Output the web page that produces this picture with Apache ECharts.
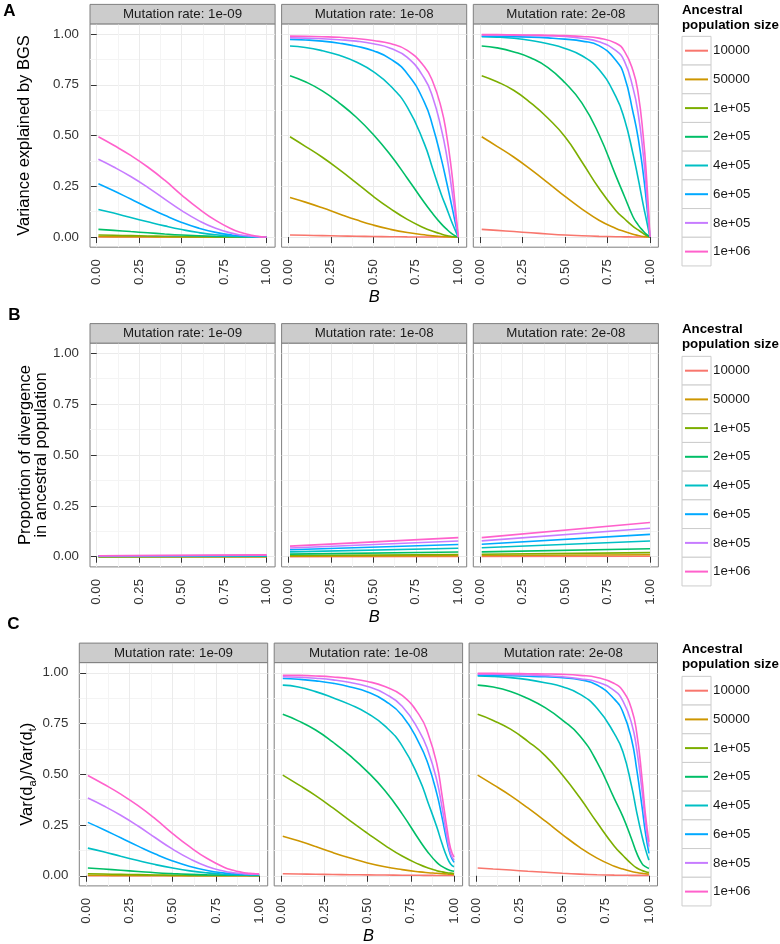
<!DOCTYPE html>
<html><head><meta charset="utf-8">
<script src="https://cdn.jsdelivr.net/npm/echarts@6/dist/echarts.min.js"></script>
<style>html,body{margin:0;padding:0;background:#fff}#c{width:780px;height:944px}</style>
</head><body><div id="c"></div>
<script>
// ---------------- data ----------------
const SIZES = ['10000', '50000', '1e+05', '2e+05', '4e+05', '6e+05', '8e+05', '1e+06'];
const FACETS = ['Mutation rate: 1e-09', 'Mutation rate: 1e-08', 'Mutation rate: 2e-08'];
const TICKS = [0, 0.25, 0.5, 0.75, 1];
const MINOR = [0.125, 0.375, 0.625, 0.875];
const B_GRID = [0.01, 0.1, 0.2, 0.3, 0.4, 0.5, 0.6, 0.7, 0.8, 0.85, 0.9, 0.93, 0.96, 0.98, 1.0];
const B_LINE = [0.01, 1.0];

// Row A: variance explained by BGS (one row per population size)
const bgs_mu1e09 = [
  [0.0001,0.0001,0.0001,0.0001,0.0001,0,0,0,0,0,0,0,0,0,0],
  [0.0025,0.0021,0.0017,0.0013,0.0009,0.0006,0.0004,0.0002,0.0001,0,0,0,0,0,0],
  [0.0098,0.0085,0.0069,0.0053,0.0039,0.0027,0.0017,0.0009,0.0004,0.0002,0.0001,0,0,0,0],
  [0.038,0.033,0.027,0.021,0.015,0.01,0.0065,0.0035,0.0015,0.001,0.0004,0.0002,0.0001,0,0],
  [0.136,0.118,0.096,0.075,0.055,0.037,0.022,0.011,0.004,0.002,0.001,0.0005,0.0002,0,0],
  [0.263,0.228,0.187,0.146,0.107,0.072,0.044,0.023,0.009,0.005,0.002,0.001,0.0004,0.0001,0],
  [0.383,0.345,0.298,0.245,0.187,0.13,0.081,0.043,0.018,0.01,0.005,0.003,0.001,0.0003,0],
  [0.494,0.452,0.402,0.345,0.28,0.207,0.14,0.082,0.037,0.022,0.011,0.006,0.002,0.0005,0]
];
const bgs_mu1e08 = [
  [0.0098,0.0085,0.0069,0.0053,0.0039,0.0027,0.0017,0.0009,0.0004,0.0002,0.0001,0,0,0,0],
  [0.195,0.172,0.144,0.114,0.085,0.059,0.038,0.022,0.011,0.006,0.003,0.0015,0.0005,0.0001,0],
  [0.494,0.447,0.393,0.332,0.267,0.2,0.14,0.087,0.045,0.029,0.015,0.008,0.003,0.001,0],
  [0.795,0.765,0.72,0.66,0.59,0.505,0.405,0.29,0.17,0.115,0.065,0.04,0.018,0.007,0],
  [0.941,0.934,0.918,0.895,0.862,0.815,0.745,0.64,0.46,0.335,0.21,0.145,0.078,0.038,0],
  [0.974,0.971,0.965,0.955,0.94,0.918,0.878,0.805,0.665,0.545,0.385,0.275,0.16,0.08,0],
  [0.982,0.98,0.977,0.972,0.965,0.952,0.93,0.885,0.782,0.688,0.533,0.41,0.245,0.125,0],
  [0.99,0.989,0.987,0.984,0.978,0.968,0.953,0.92,0.84,0.765,0.635,0.51,0.33,0.17,0]
];
const bgs_mu2e08 = [
  [0.038,0.033,0.027,0.021,0.015,0.01,0.0065,0.0035,0.0015,0.001,0.0004,0.0002,0.0001,0,0],
  [0.494,0.447,0.393,0.332,0.267,0.2,0.138,0.083,0.042,0.027,0.014,0.008,0.003,0.001,0],
  [0.795,0.765,0.722,0.66,0.585,0.494,0.37,0.24,0.13,0.09,0.053,0.035,0.018,0.008,0],
  [0.941,0.932,0.912,0.882,0.835,0.76,0.66,0.505,0.30,0.2,0.1,0.06,0.03,0.013,0],
  [0.987,0.985,0.979,0.968,0.952,0.929,0.893,0.825,0.69,0.58,0.41,0.29,0.16,0.08,0],
  [0.99,0.989,0.987,0.985,0.981,0.975,0.965,0.943,0.87,0.79,0.615,0.49,0.315,0.165,0],
  [0.995,0.995,0.994,0.993,0.991,0.988,0.979,0.962,0.918,0.865,0.735,0.61,0.41,0.22,0],
  [0.997,0.997,0.996,0.995,0.994,0.992,0.988,0.98,0.955,0.915,0.82,0.71,0.50,0.29,0]
];

// Row B: proportion of divergence in ancestral population (values at B = 0.01 and 1)
const div_mu1e09 = [
  [0,0],[0.0003,0.0005],[0.0005,0.001],[0.001,0.002],
  [0.002,0.004],[0.003,0.006],[0.004,0.0075],[0.005,0.0093]
];
const div_mu1e08 = [
  [0.0006,0.0011],[0.003,0.0055],[0.006,0.011],[0.013,0.023],
  [0.024,0.042],[0.034,0.06],[0.043,0.077],[0.052,0.094]
];
const div_mu2e08 = [
  [0.0012,0.002],[0.006,0.01],[0.012,0.02],[0.024,0.039],
  [0.044,0.077],[0.061,0.11],[0.078,0.14],[0.094,0.168]
];

// Row C: Var(da)/Var(dt)
const vard_mu1e09 = [
  [0.0001,0.0001,0.0001,0.0001,0.0001,0.0001,0.0001,0.0001,0.0001,0.0001,0.0001,0.0001,0.0001,0.0001,0.0001],
  [0.0025,0.0021,0.0017,0.0013,0.001,0.0008,0.0006,0.0005,0.0005,0.0005,0.0005,0.0005,0.0005,0.0005,0.0005],
  [0.0098,0.0085,0.0069,0.0053,0.0039,0.0028,0.0019,0.0014,0.0011,0.001,0.001,0.001,0.001,0.001,0.001],
  [0.038,0.033,0.027,0.021,0.015,0.0105,0.007,0.0045,0.003,0.0025,0.0022,0.0021,0.002,0.002,0.002],
  [0.136,0.118,0.096,0.075,0.055,0.038,0.024,0.014,0.0075,0.006,0.005,0.0045,0.0042,0.004,0.004],
  [0.263,0.228,0.187,0.146,0.107,0.073,0.046,0.026,0.013,0.0095,0.0075,0.0068,0.0063,0.006,0.006],
  [0.383,0.345,0.298,0.245,0.187,0.131,0.083,0.046,0.022,0.015,0.011,0.009,0.008,0.0077,0.0075],
  [0.494,0.452,0.402,0.345,0.28,0.208,0.142,0.085,0.041,0.027,0.017,0.013,0.011,0.0098,0.0093]
];
const vard_mu1e08 = [
  [0.0098,0.0086,0.0073,0.0061,0.005,0.0042,0.0035,0.0028,0.0022,0.0019,0.0016,0.0014,0.0012,0.0011,0.0011],
  [0.195,0.172,0.144,0.114,0.087,0.063,0.044,0.03,0.019,0.015,0.012,0.01,0.0085,0.0075,0.007],
  [0.496,0.449,0.395,0.334,0.27,0.209,0.15,0.097,0.055,0.038,0.025,0.019,0.015,0.013,0.011],
  [0.795,0.763,0.718,0.658,0.59,0.512,0.42,0.305,0.175,0.115,0.066,0.046,0.032,0.026,0.022],
  [0.939,0.93,0.907,0.877,0.843,0.80,0.738,0.64,0.475,0.36,0.241,0.16,0.09,0.058,0.044],
  [0.972,0.968,0.96,0.948,0.93,0.905,0.862,0.79,0.65,0.55,0.406,0.29,0.165,0.1,0.066],
  [0.98,0.978,0.973,0.965,0.952,0.932,0.897,0.835,0.71,0.615,0.471,0.34,0.19,0.11,0.077],
  [0.988,0.987,0.984,0.979,0.971,0.957,0.932,0.888,0.79,0.70,0.553,0.40,0.23,0.135,0.092]
];
const vard_mu2e08 = [
  [0.038,0.033,0.028,0.022,0.017,0.012,0.008,0.005,0.003,0.0025,0.002,0.002,0.002,0.002,0.002],
  [0.496,0.449,0.395,0.334,0.27,0.203,0.14,0.087,0.047,0.033,0.021,0.016,0.012,0.01,0.008],
  [0.795,0.765,0.722,0.662,0.592,0.496,0.385,0.262,0.145,0.1,0.058,0.038,0.026,0.02,0.016],
  [0.939,0.93,0.908,0.873,0.828,0.767,0.69,0.56,0.38,0.29,0.18,0.11,0.06,0.045,0.036],
  [0.984,0.982,0.976,0.966,0.951,0.931,0.895,0.825,0.70,0.61,0.44,0.31,0.195,0.13,0.077],
  [0.988,0.987,0.985,0.983,0.98,0.975,0.966,0.94,0.87,0.805,0.67,0.52,0.34,0.21,0.11],
  [0.993,0.993,0.991,0.989,0.986,0.98,0.97,0.955,0.912,0.86,0.75,0.62,0.42,0.26,0.143],
  [0.997,0.997,0.996,0.995,0.994,0.992,0.987,0.977,0.947,0.91,0.82,0.70,0.48,0.30,0.167]
];

// ---------------- style / layout ----------------
const COLORS = ['#F8766D','#CD9600','#7CAE00','#00BE67','#00BFC4','#00A9FF','#C77CFF','#FF61CC'];
const FONT = '"Liberation Sans", Arial, Helvetica, sans-serif';
const XMIN = -0.0395, XMAX = 1.0495, YMIN = -0.05, YMAX = 1.05;

const ROWS = [
  { panels: [bgs_mu1e09, bgs_mu1e08, bgs_mu2e08], xs: B_GRID, smooth: true,
    lefts: [90, 281.6, 473.3], width: 185.1, top: 23.9, height: 223.3,
    key1: 50.7, legTitle: 17.5, letter: ['A', 3.3, 11], xTitleY: 297 },
  { panels: [div_mu1e09, div_mu1e08, div_mu2e08], xs: B_LINE, smooth: false,
    lefts: [90, 281.6, 473.3], width: 185.1, top: 343.1, height: 223.8,
    key1: 370.7, legTitle: 336.7, letter: ['B', 8.3, 315], xTitleY: 617 },
  { panels: [vard_mu1e09, vard_mu1e08, vard_mu2e08], xs: B_GRID, smooth: true,
    lefts: [79.3, 274.2, 469.1], width: 188.4, top: 662.6, height: 223.3,
    key1: 690.7, legTitle: 656.7, letter: ['C', 7.3, 624], xTitleY: 936 }
];

const grids = [], xAxes = [], yAxes = [], series = [], graphics = [], legends = [];
const fmt = v => v.toFixed(2);

ROWS.forEach((row, r) => {
  row.panels.forEach((panel, p) => {
    grids.push({ left: row.lefts[p], top: row.top, width: row.width, height: row.height,
      show: true, backgroundColor: '#ffffff', borderColor: '#7f7f7f', borderWidth: 1 });
    // strip
    graphics.push({ type: 'rect', shape: { x: row.lefts[p], y: row.top - 19.5, width: row.width, height: 19.5 },
      style: { fill: '#cccccc', stroke: '#7f7f7f', lineWidth: 1 }, z: 10 });
    graphics.push({ type: 'text', x: row.lefts[p] + row.width / 2, y: row.top - 9.5,
      style: { text: FACETS[p], fill: '#1a1a1a', fontSize: 13.3, fontFamily: FONT, align: 'center', verticalAlign: 'middle' }, z: 11 });
  });
});

// main axes first (indices 0..8), then minor-grid axes (9..17)
for (let pass = 0; pass < 2; pass++) {
  ROWS.forEach((row, r) => {
    row.panels.forEach((panel, p) => {
      const g = r * 3 + p;
      const major = pass === 0;
      xAxes.push({ gridIndex: g, type: 'value', min: XMIN, max: XMAX,
        axisLine: { show: false },
        axisTick: { show: major, length: 6, customValues: major ? TICKS : MINOR, lineStyle: { color: '#333333', width: 1 } },
        axisLabel: { show: major, rotate: 90, margin: 12, customValues: TICKS, formatter: fmt,
          fontSize: 13.3, color: '#333333', fontFamily: FONT },
        splitLine: { show: true, lineStyle: { color: major ? '#ebebeb' : '#f4f4f4', width: 1 } } });
      yAxes.push({ gridIndex: g, type: 'value', min: YMIN, max: YMAX,
        axisLine: { show: false },
        axisTick: { show: major && p === 0, length: 6, customValues: major ? TICKS : MINOR, lineStyle: { color: '#333333', width: 1 } },
        axisLabel: { show: major && p === 0, margin: 11, customValues: TICKS, formatter: fmt,
          fontSize: 13.3, color: '#333333', fontFamily: FONT },
        splitLine: { show: true, lineStyle: { color: major ? '#ebebeb' : '#f4f4f4', width: 1 } } });
    });
  });
}

ROWS.forEach((row, r) => {
  row.panels.forEach((panel, p) => {
    const g = r * 3 + p;
    panel.forEach((vals, s) => {
      series.push({ type: 'line', name: SIZES[s], xAxisIndex: g, yAxisIndex: g,
        data: row.xs.map((b, i) => [b, vals[i]]),
        showSymbol: false, symbol: 'none', smooth: row.smooth ? 0.5 : false,
        silent: true, animation: false,
        lineStyle: { width: 1.6, color: COLORS[s] }, itemStyle: { color: COLORS[s] } });
    });
  });
  // legend
  legends.push({ data: SIZES, orient: 'vertical', left: 685, top: row.key1 - 7, padding: 0,
    itemWidth: 23, itemHeight: 2, itemGap: 14.7, icon: 'rect', selectedMode: false,
    textStyle: { fontSize: 13.3, color: '#1a1a1a', fontFamily: FONT, lineHeight: 14 } });
  for (let k = 0; k < SIZES.length; k++) {
    graphics.push({ type: 'rect', shape: { x: 682, y: row.key1 - 14.35 + k * 28.7, width: 29, height: 28.7 },
      style: { fill: '#ffffff', stroke: '#cccccc', lineWidth: 1 }, z: -1 });
  }
  graphics.push({ type: 'text', x: 682, y: row.legTitle,
    style: { text: 'Ancestral\npopulation size', fill: '#000', fontSize: 13.3, fontWeight: 'bold', fontFamily: FONT,
      lineHeight: 15, align: 'left', verticalAlign: 'middle' } });
  // panel letter
  graphics.push({ type: 'text', x: row.letter[1], y: row.letter[2],
    style: { text: row.letter[0], fill: '#000', fontSize: 17, fontWeight: 'bold', fontFamily: FONT, align: 'left', verticalAlign: 'middle' } });
  // x title
  const mid = row.lefts[1] + row.width / 2;
  graphics.push({ type: 'text', x: mid, y: row.xTitleY,
    style: { text: 'B', fill: '#000', fontSize: 16.5, fontStyle: 'italic', fontFamily: FONT, align: 'center', verticalAlign: 'middle' } });
});

// y-axis titles
const cyA = ROWS[0].top + ROWS[0].height / 2;
const cyB = ROWS[1].top + ROWS[1].height / 2;
const cyC = ROWS[2].top + ROWS[2].height / 2;
graphics.push({ type: 'text', x: 24.7, y: cyA, rotation: Math.PI / 2,
  style: { text: 'Variance explained by BGS', fill: '#000', fontSize: 16.5, fontFamily: FONT, align: 'center', verticalAlign: 'middle' } });
graphics.push({ type: 'text', x: 33.3, y: cyB, rotation: Math.PI / 2,
  style: { text: 'Proportion of divergence\nin ancestral population', fill: '#000', fontSize: 16.5, lineHeight: 16.5,
    fontFamily: FONT, align: 'center', verticalAlign: 'middle' } });
graphics.push({ type: 'text', x: 27, y: cyC, rotation: Math.PI / 2,
  style: { text: '{n|Var(d}{s|a}{n|)/Var(d}{s|t}{n|)}', fill: '#000', fontFamily: FONT, align: 'center', verticalAlign: 'middle',
    rich: { n: { fontSize: 16.5, fontFamily: FONT, fill: '#000', lineHeight: 22, verticalAlign: 'middle' },
            s: { fontSize: 11, fontFamily: FONT, fill: '#000', lineHeight: 11, verticalAlign: 'bottom' } } } });

const chart = echarts.init(document.getElementById('c'), null, { renderer: 'canvas' });
chart.setOption({
  animation: false,
  backgroundColor: '#ffffff',
  grid: grids, xAxis: xAxes, yAxis: yAxes, series: series, legend: legends,
  graphic: { elements: graphics }
});
</script></body></html>
